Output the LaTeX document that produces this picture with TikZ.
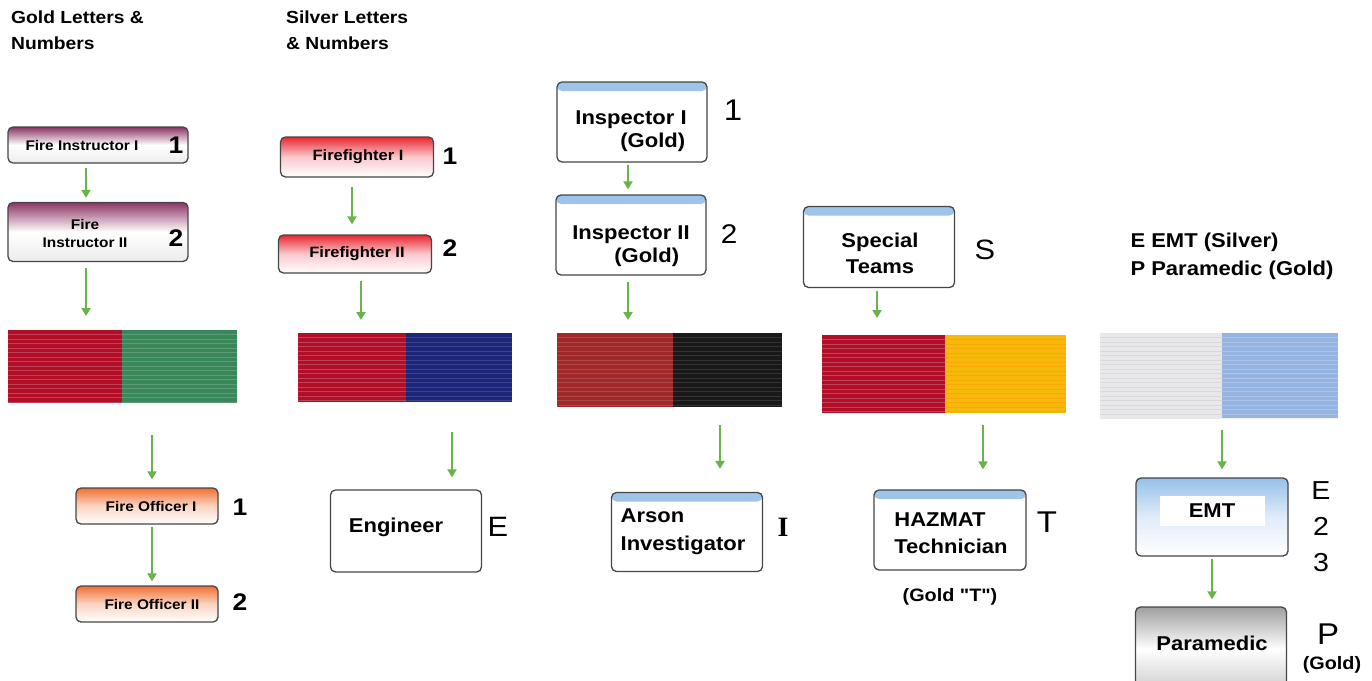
\documentclass[tikz,border=0pt]{standalone}
\usepackage{fontspec}
\setmainfont{Liberation Sans}[FakeStretch=1.1]
\newfontfamily\serifbf{Liberation Serif}
\newfontfamily\plainq{Liberation Sans}[FakeStretch=1.1]
\usetikzlibrary{arrows.meta}
\definecolor{arrgreen}{RGB}{104,180,72}
\definecolor{boxline}{RGB}{70,70,70}
\definecolor{stripblue}{RGB}{158,196,234}
\definecolor{fipurple}{RGB}{140,52,100}
\definecolor{ffred}{RGB}{232,40,50}
\definecolor{foorange}{RGB}{240,112,50}
\definecolor{ribred}{RGB}{178,14,40}
\definecolor{ribgreen}{RGB}{58,135,90}
\definecolor{ribnavy}{RGB}{28,38,120}
\definecolor{ribbrown}{RGB}{160,40,40}
\definecolor{ribblack}{RGB}{25,25,25}
\definecolor{ribyellow}{RGB}{246,184,10}
\definecolor{ribsilver}{RGB}{232,232,234}
\definecolor{ribblue}{RGB}{150,180,225}
\definecolor{emtblue}{RGB}{150,192,234}
\tikzset{
  box/.style={draw=boxline, line width=1.3pt, rounded corners=5pt, fill=white, inner sep=0pt},
  bluebox/.style={box, path picture={\fill[stripblue] (path picture bounding box.north west) rectangle ([yshift=-9pt]path picture bounding box.north east);}},
  fibox/.style={box, top color=fipurple, bottom color=gray!15, middle color=white},
  ffbox/.style={box, top color=ffred, bottom color=white, middle color=ffred!25!white},
  fobox/.style={box, top color=foorange, bottom color=white, middle color=foorange!30!white},
  emtbox/.style={box, top color=emtblue, bottom color=white, middle color=emtblue!30!white},
  parabox/.style={box, top color=gray!75, bottom color=gray!40, middle color=white},
  rib/.style={draw=none, inner sep=0pt, outer sep=0pt, fill=#1},
  tex/.style={path picture={\foreach \k in {1,...,19}{\draw[#1, opacity=.35, line width=.5pt] ([yshift=-\k*4.5pt]path picture bounding box.north west) -- ([yshift=-\k*4.5pt]path picture bounding box.north east);}}},
  small/.style={inner sep=0pt, font=\fontsize{14}{16}\selectfont\bfseries},
  txt/.style={inner sep=0pt, font=\fontsize{20}{23}\selectfont\bfseries},
  hdr/.style={inner sep=0pt, align=left, font=\fontsize{17.5}{26}\selectfont\bfseries},
  numb/.style={inner sep=0pt, font=\fontsize{24}{26}\selectfont\bfseries},
  lab/.style={inner sep=0pt, font=\fontsize{#1}{#1}\selectfont},
  arr/.style={draw=arrgreen, line width=2.2pt, -{Triangle[length=8pt,width=9pt]}}
}
\begin{document}
\begin{tikzpicture}[x=1pt,y=-1pt]
\useasboundingbox[fill=white] (0,0) rectangle (1372,680);

% headers
\node[hdr, anchor=north west] (h1) at (11,11) {Gold Letters \&\\Numbers};
\node[hdr, anchor=north west] (h2) at (286,11) {Silver Letters\\\& Numbers};
\node[hdr, font=\fontsize{20}{28}\selectfont\bfseries] (h5) at (1232,256) {E EMT (Silver)\\P Paramedic (Gold)};

% column 1
\node[fibox, minimum width=180pt, minimum height=36pt] (fi1) at (98,145) {};
\node[small] (fi1t) at (82,145) {Fire Instructor I};
\node[numb] (fi1n) at (176,145) {1};
\node[fibox, minimum width=180pt, minimum height=59pt] (fi2) at (98,232) {};
\node[small, align=center, font=\fontsize{14}{18}\selectfont\bfseries] (fi2t) at (85,233) {Fire\\Instructor II};
\node[numb] (fi2n) at (176,238) {2};
\node[rib=ribred, tex=white!60!ribred, minimum width=114pt, minimum height=73pt] (r1L) at (65,366.5) {};
\node[rib=ribgreen, tex=ribgreen!50!white, minimum width=115pt, minimum height=73pt] (r1R) at (179.5,366.5) {};
\node[fobox, minimum width=142pt, minimum height=36pt] (fo1) at (147,506) {};
\node[small] (fo1t) at (151,506) {Fire Officer I};
\node[numb] (fo1n) at (240,507) {1};
\node[fobox, minimum width=142pt, minimum height=36pt] (fo2) at (147,604) {};
\node[small] (fo2t) at (152,604) {Fire Officer II};
\node[numb] (fo2n) at (240,602) {2};
\draw[arr, shorten <=4pt, shorten >=4pt] ([xshift=-12pt]fi1.south) -- ([xshift=-12pt]fi2.north);
\draw[arr, shorten <=6pt, shorten >=14pt] ([xshift=-12pt]fi2.south) -- ([xshift=-12pt]fi2.south |- r1L.north);
\draw[arr, shorten <=32pt, shorten >=8pt] ([xshift=5pt]r1R.south -| fo1.north) -- ([xshift=5pt]fo1.north);
\draw[arr, shorten <=2pt, shorten >=4pt] ([xshift=5pt]fo1.south) -- ([xshift=5pt]fo2.north);

% column 2
\node[ffbox, minimum width=153pt, minimum height=40pt] (ff1) at (357,157) {};
\node[small, font=\fontsize{15}{16}\selectfont\bfseries] (ff1t) at (358,157) {Firefighter I};
\node[numb] (ff1n) at (450,156) {1};
\node[ffbox, minimum width=153pt, minimum height=38pt] (ff2) at (355,254) {};
\node[small, font=\fontsize{15}{16}\selectfont\bfseries] (ff2t) at (357,254) {Firefighter II};
\node[numb] (ff2n) at (450,248) {2};
\node[rib=ribred, tex=white!60!ribred, minimum width=108pt, minimum height=69pt] (r2L) at (352,367.5) {};
\node[rib=ribnavy, tex=ribnavy!60!white, minimum width=106pt, minimum height=69pt] (r2R) at (459,367.5) {};
\node[box, minimum width=151pt, minimum height=82pt] (eng) at (406,531) {};
\node[txt] (engt) at (396,527) {Engineer};
\node[lab=28] (engn) at (498,527) {E};
\draw[arr, shorten <=9pt, shorten >=10pt] ([xshift=-5pt]ff1.south) -- ([xshift=-5pt]ff1.south |- ff2.north);
\draw[arr, shorten <=7pt, shorten >=13pt] ([xshift=6pt]ff2.south) -- ([xshift=6pt]ff2.south |- r2L.north);
\draw[arr, shorten <=30pt, shorten >=12pt] ([xshift=-7pt]r2R.south) -- ([xshift=-7pt]r2R.south |- eng.north);

% column 3
\node[bluebox, minimum width=150pt, minimum height=80pt] (ins1) at (632,122) {};
\node[txt, align=left] (ins1t) at (631,131) {Inspector I\\\hspace*{45pt}(Gold)};
\node[lab=30] (ins1n) at (733,110) {1};
\node[bluebox, minimum width=150pt, minimum height=80pt] (ins2) at (631,235) {};
\node[txt, align=left] (ins2t) at (631,246) {Inspector II\\\hspace*{42pt}(Gold)};
\node[lab=27] (ins2n) at (729,234) {2};
\node[rib=ribbrown, tex=ribbrown!60!white, minimum width=116pt, minimum height=74pt] (r3L) at (615,370) {};
\node[rib=ribblack, tex=black!60!white, minimum width=109pt, minimum height=74pt] (r3R) at (727.5,370) {};
\node[bluebox, minimum width=151pt, minimum height=79pt] (arson) at (687,532) {};
\node[txt, align=left, font=\fontsize{20}{28}\selectfont\bfseries] (arsont) at (683,532) {Arson\\Investigator};
\node[lab=28, font=\fontsize{28}{28}\serifbf\bfseries] (arsonn) at (783,527) {I};
\draw[arr, shorten <=2pt, shorten >=5pt] ([xshift=-4pt]ins1.south) -- ([xshift=-4pt]ins1.south |- ins2.north);
\draw[arr, shorten <=6pt, shorten >=13pt] ([xshift=-3pt]ins2.south) -- ([xshift=-3pt]ins2.south |- r3L.north);
\draw[arr, shorten <=18pt, shorten >=23pt] ([xshift=-7.5pt]r3R.south) -- ([xshift=-7.5pt]r3R.south |- arson.north);

% column 4
\node[bluebox, minimum width=151pt, minimum height=81pt] (sp) at (879,247) {};
\node[txt, align=center, font=\fontsize{20}{26}\selectfont\bfseries] (spt) at (880,253) {Special\\Teams};
\node[lab=28] (spn) at (985,250) {S};
\node[rib=ribred, tex=white!65!ribred, minimum width=123pt, minimum height=78pt] (r4L) at (883.5,374) {};
\node[rib=ribyellow, tex=orange!80!ribyellow, minimum width=121pt, minimum height=78pt] (r4R) at (1005.5,374) {};
\node[bluebox, minimum width=152pt, minimum height=80pt] (haz) at (950,530) {};
\node[txt, align=left, font=\fontsize{20}{27}\selectfont\bfseries] (hazt) at (951,533) {HAZMAT\\Technician};
\node[lab=30] (hazn) at (1047,522) {T};
\node[txt, font=\fontsize{18}{20}\plainq\bfseries] (hazg) at (950,597) {(Gold "T")};
\draw[arr, shorten <=3pt, shorten >=17pt] ([xshift=-2pt]sp.south) -- ([xshift=-2pt]sp.south |- r4L.north);
\draw[arr, shorten <=12pt, shorten >=20pt] ([xshift=-22.5pt]r4R.south) -- ([xshift=-22.5pt]r4R.south |- haz.north);

% column 5
\node[rib=ribsilver, tex=gray!50, minimum width=122pt, minimum height=85pt] (r5L) at (1161,375.5) {};
\node[rib=ribblue, tex=ribblue!40!white, minimum width=116pt, minimum height=85pt] (r5R) at (1280,375.5) {};
\node[emtbox, minimum width=152pt, minimum height=78pt] (emt) at (1212,517) {};
\node[txt, fill=white, minimum width=105pt, minimum height=30pt] (emtt) at (1212,511) {EMT};
\node[lab=26, align=center, font=\fontsize{26}{36}\selectfont] (emtn) at (1321,527) {E\\2\\3};
\node[parabox, minimum width=151pt, minimum height=84pt] (para) at (1211,649) {};
\node[txt] (parat) at (1212,643) {Paramedic};
\node[lab=30] (paran) at (1328,634) {P};
\node[txt, font=\fontsize{18}{20}\selectfont\bfseries] (parag) at (1332,665) {(Gold)};
\draw[arr, shorten <=12pt, shorten >=8pt] (r5L.south east) -- (r5L.south east |- emt.north);
\draw[arr, shorten <=2pt, shorten >=7pt] (emt.south) -- (emt.south |- para.north);
\end{tikzpicture}
\end{document}
